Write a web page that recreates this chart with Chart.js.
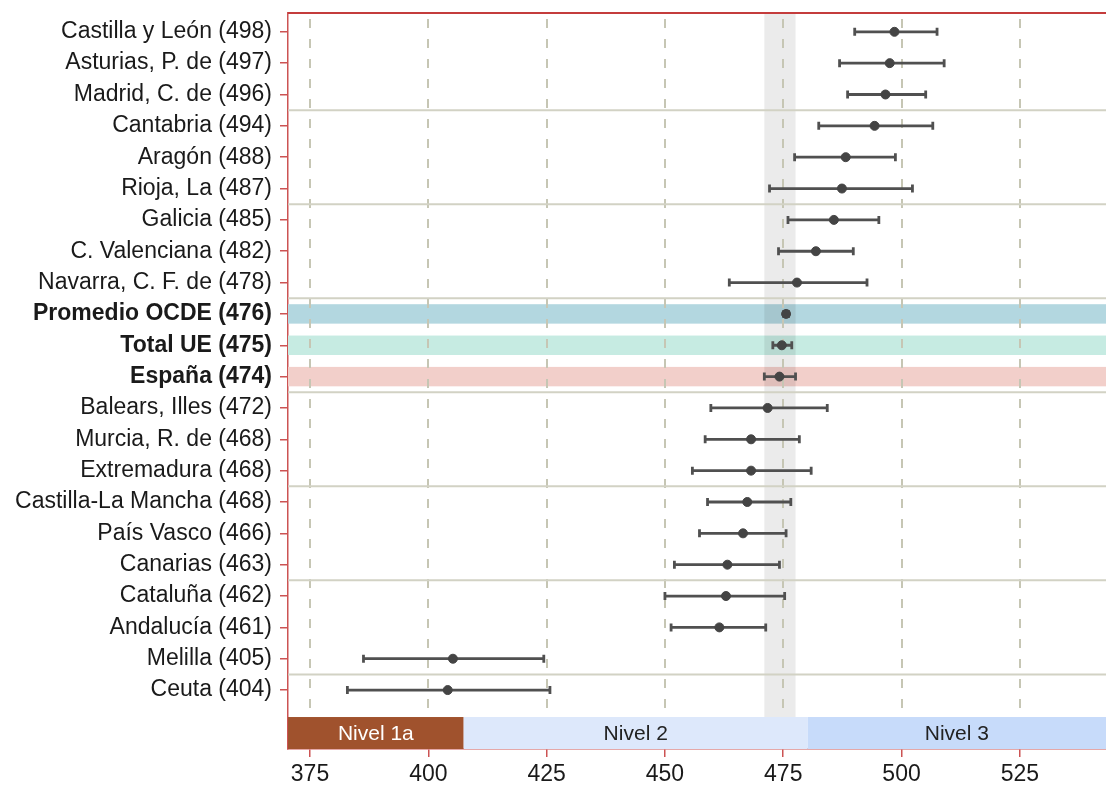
<!DOCTYPE html>
<html>
<head>
<meta charset="utf-8">
<script src="https://cdn.jsdelivr.net/npm/chart.js@4.4.1/dist/chart.umd.min.js"></script>
<style>
  html, body { margin: 0; padding: 0; background: #fff; }
  #wrap { width: 1106px; height: 785px; }
</style>
</head>
<body>
<div id="wrap"><canvas id="chart"></canvas></div>
<script>
// --- data ---
var categories = [
  'Castilla y León (498)', 'Asturias, P. de (497)', 'Madrid, C. de (496)',
  'Cantabria (494)', 'Aragón (488)', 'Rioja, La (487)',
  'Galicia (485)', 'C. Valenciana (482)', 'Navarra, C. F. de (478)',
  'Promedio OCDE (476)', 'Total UE (475)', 'España (474)',
  'Balears, Illes (472)', 'Murcia, R. de (468)', 'Extremadura (468)',
  'Castilla-La Mancha (468)', 'País Vasco (466)', 'Canarias (463)',
  'Cataluña (462)', 'Andalucía (461)', 'Melilla (405)', 'Ceuta (404)'
];
var scores = [498.5, 497.5, 496.6, 494.3, 488.2, 487.4, 485.7, 481.9, 477.9, 475.6, 474.7, 474.2,
              471.7, 468.2, 468.2, 467.4, 466.5, 463.2, 462.9, 461.5, 405.2, 404.1];
var ciLow = [490.1, 486.9, 488.6, 482.5, 477.4, 472.1, 476.0, 474.0, 463.6, 475.1, 472.8, 471.0,
             459.7, 458.5, 455.8, 459.0, 457.3, 452.0, 450.0, 451.3, 386.3, 382.9];
var ciHigh = [507.5, 509.0, 505.1, 506.6, 498.7, 502.3, 495.2, 489.8, 492.7, 476.1, 476.8, 477.6,
              484.3, 478.4, 480.9, 476.6, 475.6, 474.2, 475.3, 471.3, 424.4, 425.7];
var boldRows = [9, 10, 11];
var highlightRows = [9, 10, 11];
var highlightColors = ['#b3d7e0', '#c6ebe2', '#f2cfca'];
var spainRow = 11;
var xTicks = [375, 400, 425, 450, 475, 500, 525];
var levelNames = ['Nivel 1a', 'Nivel 2', 'Nivel 3'];
var levelBounds = [334.75, 407.47, 480.18, 552.89];
var levelColors = ['#a0522d', '#dde8fb', '#c7dbfa'];
var levelTextColors = ['#ffffff', '#222222', '#222222'];

var FONT = "'Liberation Sans', Arial, sans-serif";
var RED = '#cc5353';
var ROW_MIN = -0.6, ROW_MAX = 22.88, LEVEL_TOP = 21.86;

var points = scores.map(function (s, i) { return { x: s, y: i }; });

function noPad(axis) {
  axis.paddingTop = 0; axis.paddingBottom = 0;
  axis.paddingLeft = 0; axis.paddingRight = 0;
}

var backdrop = {
  id: 'backdrop',
  beforeDatasetsDraw: function (chart) {
    var ctx = chart.ctx, a = chart.chartArea;
    var xs = chart.scales.x, ys = chart.scales.y;
    var rowH = Math.abs(ys.getPixelForValue(1) - ys.getPixelForValue(0));
    var levelTop = ys.getPixelForValue(LEVEL_TOP);
    ctx.save();
    ctx.beginPath();
    ctx.rect(a.left, a.top, a.right - a.left, a.bottom - a.top);
    ctx.clip();

    // highlighted rows
    highlightRows.forEach(function (r, k) {
      var yc = ys.getPixelForValue(r);
      ctx.fillStyle = highlightColors[k];
      ctx.fillRect(a.left, yc - rowH * 0.31, a.right - a.left, rowH * 0.62);
    });

    // Spain confidence band
    var x0 = xs.getPixelForValue(ciLow[spainRow]), x1 = xs.getPixelForValue(ciHigh[spainRow]);
    ctx.fillStyle = 'rgba(0,0,0,0.08)';
    ctx.fillRect(x0, a.top, x1 - x0, levelTop - a.top);

    // dashed verticals
    ctx.strokeStyle = '#c6c6b4';
    ctx.lineWidth = 2;
    ctx.setLineDash([9, 11]);
    xTicks.forEach(function (t) {
      var px = Math.round(xs.getPixelForValue(t));
      ctx.beginPath();
      ctx.moveTo(px, a.top + 6);
      ctx.lineTo(px, levelTop);
      ctx.stroke();
    });
    ctx.setLineDash([]);

    // group separators every 3 rows
    ctx.strokeStyle = '#d2d2c4';
    ctx.lineWidth = 2;
    for (var r = 2; r < categories.length - 1; r += 3) {
      var py = ys.getPixelForValue(r + 0.5);
      ctx.beginPath();
      ctx.moveTo(a.left, py);
      ctx.lineTo(a.right, py);
      ctx.stroke();
    }

    // level bar
    levelNames.forEach(function (name, i) {
      var l = Math.max(xs.getPixelForValue(levelBounds[i]), a.left);
      var rr = Math.min(xs.getPixelForValue(levelBounds[i + 1]), a.right);
      ctx.fillStyle = levelColors[i];
      ctx.fillRect(l, levelTop, rr - l, a.bottom - levelTop);
      ctx.fillStyle = levelTextColors[i];
      ctx.font = '21px ' + FONT;
      ctx.textAlign = 'center';
      ctx.textBaseline = 'middle';
      ctx.fillText(name, (l + rr) / 2, (levelTop + a.bottom) / 2 + 1);
    });

    // error bars
    ctx.strokeStyle = '#505050';
    ctx.lineWidth = 2.8;
    scores.forEach(function (s, i) {
      var py = ys.getPixelForValue(i);
      var lo = xs.getPixelForValue(ciLow[i]), hi = xs.getPixelForValue(ciHigh[i]);
      ctx.beginPath();
      ctx.moveTo(lo, py); ctx.lineTo(hi, py);
      ctx.moveTo(lo, py - 4); ctx.lineTo(lo, py + 4);
      ctx.moveTo(hi, py - 4); ctx.lineTo(hi, py + 4);
      ctx.stroke();
    });
    ctx.restore();
  },
  afterDraw: function (chart) {
    var ctx = chart.ctx, a = chart.chartArea;
    ctx.save();
    ctx.strokeStyle = '#c43c3c';
    ctx.lineWidth = 2;
    ctx.beginPath();
    ctx.moveTo(a.left, a.top);
    ctx.lineTo(a.right, a.top);
    ctx.stroke();
    ctx.restore();
  }
};

new Chart(document.getElementById('chart'), {
  type: 'scatter',
  data: {
    datasets: [{
      data: points,
      backgroundColor: '#444444',
      borderColor: '#444444',
      pointRadius: 4.5,
      pointHoverRadius: 4.5
    }]
  },
  options: {
    responsive: true,
    maintainAspectRatio: false,
    animation: false,
    layout: { autoPadding: false, padding: { top: 13, right: 0, left: 0, bottom: 0 } },
    plugins: { legend: { display: false }, tooltip: { enabled: false } },
    scales: {
      x: {
        type: 'linear',
        min: 370.35,
        max: 543.2,
        afterBuildTicks: function (axis) { axis.ticks = xTicks.map(function (v) { return { value: v }; }); },
        afterFit: function (axis) { axis.height = 36; noPad(axis); },
        grid: { drawOnChartArea: false, color: RED, tickLength: 8, lineWidth: 1.5 },
        border: { color: RED, width: 1.5 },
        ticks: { color: '#1a1a1a', padding: 4, maxRotation: 0, font: { family: FONT, size: 23 } }
      },
      y: {
        type: 'linear',
        reverse: true,
        min: ROW_MIN,
        max: ROW_MAX,
        afterBuildTicks: function (axis) { axis.ticks = categories.map(function (c, i) { return { value: i }; }); },
        afterFit: function (axis) { axis.width = 288; noPad(axis); },
        grid: { drawOnChartArea: false, color: RED, tickLength: 8, lineWidth: 1.5 },
        border: { color: RED, width: 1.5 },
        ticks: {
          color: '#1a1a1a',
          padding: 8,
          autoSkip: false,
          callback: function (v) { return categories[v]; },
          font: function (c) {
            return { family: FONT, size: 23, weight: boldRows.indexOf(c.index) >= 0 ? 'bold' : 'normal' };
          }
        }
      }
    }
  },
  plugins: [backdrop]
});
</script>
</body>
</html>
